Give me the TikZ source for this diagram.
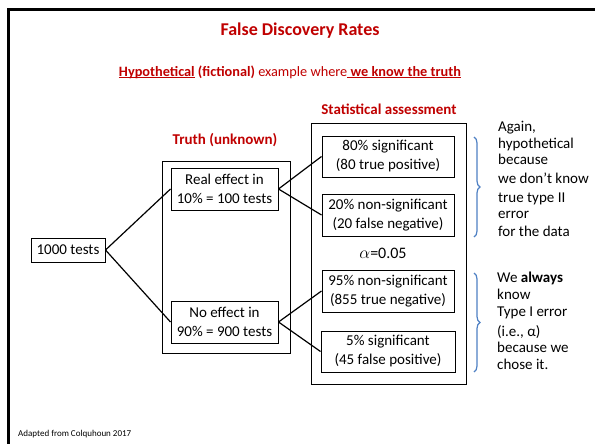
\documentclass[tikz,border=0pt]{standalone}
\usepackage{fontspec}
\setmainfont{Carlito}
\usetikzlibrary{decorations.pathreplacing}
\definecolor{slidered}{HTML}{C00000}
\definecolor{bracketblue}{HTML}{4F81C4}
% underline drawn as a rule beneath a box of text
\newcommand{\myul}[1]{\setbox0\hbox{#1}\rlap{\rule[-2.2pt]{\wd0}{1.3pt}}\box0\relax}
\tikzset{
  box/.style={draw=black, line width=1pt, align=center, inner sep=0pt,
    font=\fontsize{15}{19}\selectfont},
  frame/.style={draw=black, line width=1pt, inner sep=0pt},
  heading/.style={text=slidered, font=\fontsize{15}{18}\selectfont\bfseries},
  link/.style={line width=1.2pt, black},
  note/.style={anchor=base west, inner sep=0pt, font=\fontsize{15}{18}\selectfont},
  bracket/.style={draw=bracketblue, line width=1.2pt,
    decorate, decoration={brace, amplitude=6pt}}
}
\begin{document}
\begin{tikzpicture}[x=1pt, y=-1pt]
\useasboundingbox (0,0) rectangle (595,444);
\fill[white] (0,0) rectangle (595,444);
% slide border: top and left edges
\draw[line width=3pt, line cap=rect] (595,10) -- (8,10) -- (8,444);

% title and subtitle
\node[text=slidered, font=\fontsize{18}{22}\selectfont\bfseries] (title) at (300,31) {False Discovery Rates};
\node[text=slidered, font=\fontsize{14.3}{17}\selectfont, inner sep=0pt] (subtitle) at (290,72)
  {\myul{\textbf{Hypothetical}} \textbf{(fictional)} example where\myul{\textbf{\ we know the truth}}};

% group frames
\node[frame, minimum width=128pt, minimum height=192pt] (truthframe) at (226,257) {};
\node[frame, minimum width=155pt, minimum height=260pt] (statframe) at (388.5,254) {};
\node[heading] (truthlabel) at (225,140) {Truth (unknown)};
\node[heading] (statlabel) at (389,109) {Statistical assessment};

% boxes
\node[box, minimum width=74pt, minimum height=24pt] (all) at (68,250) {1000 tests};
\node[box, minimum width=107pt, minimum height=42pt] (real) at (224.5,189) {Real effect in\\10\% = 100 tests};
\node[box, minimum width=107pt, minimum height=42pt] (none) at (224.5,322) {No effect in\\90\% = 900 tests};
\node[box, minimum width=132pt, minimum height=41pt] (tp) at (388,156.5) {80\% significant\\(80 true positive)};
\node[box, minimum width=132pt, minimum height=42pt] (fn) at (388,215) {20\% non-significant\\(20 false negative)};
\node[box, minimum width=132pt, minimum height=42pt] (tn) at (388,291) {95\% non-significant\\(855 true negative)};
\node[box, minimum width=134pt, minimum height=41pt] (fp) at (388,351.5) {5\% significant\\(45 false positive)};
\node[font=\fontsize{16}{19}\selectfont] (alpha) at (383,253) {$\alpha$=0.05};

% connectors
\draw[link] (all.east) -- (real.west);
\draw[link] (all.east) -- (none.west);
\draw[link] (real.east) -- (tp.west);
\draw[link] (real.east) -- (fn.west);
\draw[link] (none.east) -- (tn.west);
\draw[link] (none.east) -- (fp.west);

% brackets
\coordinate (b1top) at (474,137);
\coordinate (b1bot) at (474,237);
\coordinate (b2top) at (474,273);
\coordinate (b2bot) at (474,372);
\draw[bracket] (b1top) -- (b1bot);
\draw[bracket] (b2top) -- (b2bot);

% side notes
\node[note] (n1) at (498,131.5) {Again,};
\node[note] (n2) at (498,148) {hypothetical};
\node[note] (n3) at (498,164.5) {because};
\node[note] (n4) at (498,183.5) {we don’t know};
\node[note] (n5) at (498,202.5) {true type II};
\node[note] (n6) at (498,218.5) {error};
\node[note] (n7) at (498,236.5) {for the data};

\node[note] (m1) at (497,282.5) {We \textbf{always}};
\node[note] (m2) at (497,299.5) {know};
\node[note] (m3) at (497,316.5) {Type I error};
\node[note] (m4) at (497,336) {(i.e., α)};
\node[note] (m5) at (497,352.5) {because we};
\node[note] (m6) at (497,369.5) {chose it.};

% source
\node[anchor=base west, inner sep=0pt, font=\fontsize{9}{11}\selectfont] (source) at (18,436) {Adapted from Colquhoun 2017};
\end{tikzpicture}
\end{document}
